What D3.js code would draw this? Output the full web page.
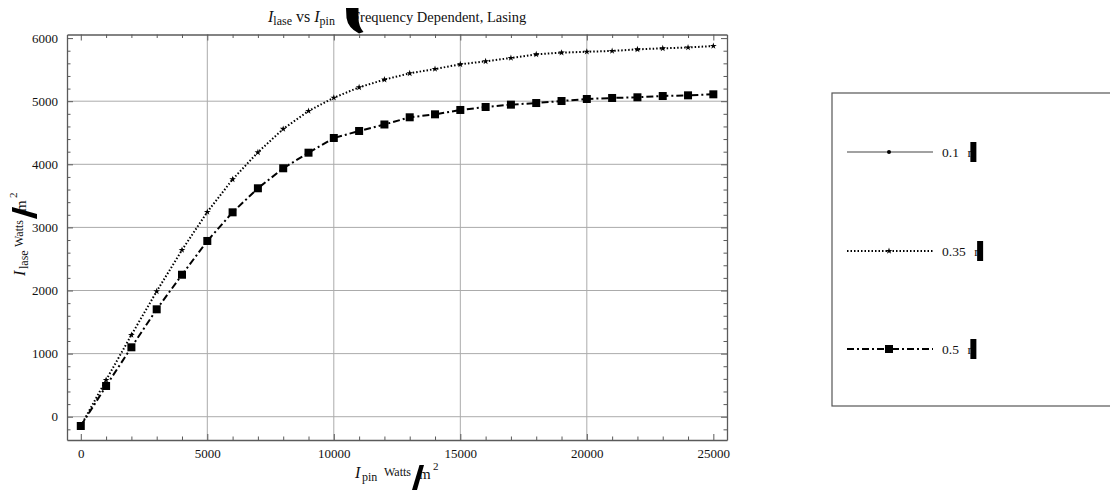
<!DOCTYPE html>
<html>
<head>
<meta charset="utf-8">
<script src="https://cdn.jsdelivr.net/npm/d3@7"></script>
<style>
  html, body { margin: 0; padding: 0; background: #fff; }
  svg { display: block; }
  text { font-family: "Liberation Serif", "DejaVu Serif", serif; fill: #111; }
</style>
</head>
<body>
<svg id="chart" width="1110" height="492"></svg>
<script>
// Pump intensity (W/cm^2) sampled every 1000
const pumpIntensity = [0, 1000, 2000, 3000, 4000, 5000, 6000, 7000, 8000, 9000, 10000,
  11000, 12000, 13000, 14000, 15000, 16000, 17000, 18000, 19000, 20000,
  21000, 22000, 23000, 24000, 25000];

// Lasing output for each parameter value
const lase010 = [];
const lase035 = [-147, 581, 1295, 1987, 2642, 3244, 3762, 4190, 4560, 4845, 5055,
  5220, 5342, 5442, 5510, 5585, 5632, 5685, 5743, 5769, 5784,
  5796, 5822, 5838, 5851, 5875];
const lase050 = [-147, 487, 1100, 1702, 2250, 2785, 3239, 3620, 3937, 4184, 4417,
  4528, 4631, 4745, 4792, 4861, 4908, 4945, 4971, 5003, 5035,
  5051, 5062, 5082, 5093, 5109];

const seriesLabels = ["0.1", "0.35", "0.5"];

const xMajorTicks = [0, 5000, 10000, 15000, 20000, 25000];
const yMajorTicks = [0, 1000, 2000, 3000, 4000, 5000, 6000];
const xGridValues = [5000, 10000, 15000, 20000];
const yGridValues = [0, 1000, 2000, 3000, 4000, 5000];

const svg = d3.select("#chart");

const frame = { left: 67, right: 727, top: 34.5, bottom: 440 };
const x = d3.scaleLinear().domain([-545, 25540]).range([frame.left, frame.right]);
const y = d3.scaleLinear().domain([-369, 6057]).range([frame.bottom, frame.top]);

const frameColor = "#5a5a5a";
const gridColor = "#ababab";

// grid
const grid = svg.append("g");
grid.selectAll("line.gx").data(xGridValues).join("line")
  .attr("x1", d => x(d)).attr("x2", d => x(d))
  .attr("y1", frame.top).attr("y2", frame.bottom)
  .attr("stroke", gridColor).attr("stroke-width", 1);
grid.selectAll("line.gy").data(yGridValues).join("line")
  .attr("x1", frame.left).attr("x2", frame.right)
  .attr("y1", d => y(d)).attr("y2", d => y(d))
  .attr("stroke", gridColor).attr("stroke-width", 1);

// frame axes with inward ticks
function styleAxis(g) {
  g.select(".domain").attr("stroke", frameColor).attr("stroke-width", 1.3);
  g.selectAll(".tick line").attr("stroke", frameColor).attr("stroke-width", 1);
  g.selectAll(".tick text").attr("font-family", "Liberation Serif").attr("font-size", 13).attr("fill", "#111");
}
const xMinor = x.ticks(26).filter(v => v % 5000 !== 0);
const yMinor = d3.range(-200, 6001, 200).filter(v => v % 1000 !== 0);

// bottom
svg.append("g").attr("transform", `translate(0,${frame.bottom})`)
  .call(d3.axisBottom(x).tickValues(xMajorTicks).tickFormat(d3.format("d")).tickSizeInner(-6).tickSizeOuter(0).tickPadding(9))
  .call(styleAxis);
svg.append("g").attr("transform", `translate(0,${frame.bottom})`)
  .call(d3.axisBottom(x).tickValues(xMinor).tickFormat("").tickSizeInner(-3.5).tickSizeOuter(0))
  .call(g => g.select(".domain").remove()).call(styleAxis);
// top
svg.append("g").attr("transform", `translate(0,${frame.top})`)
  .call(d3.axisTop(x).tickValues(xMajorTicks).tickFormat("").tickSizeInner(-6).tickSizeOuter(0))
  .call(styleAxis);
svg.append("g").attr("transform", `translate(0,${frame.top})`)
  .call(d3.axisTop(x).tickValues(xMinor).tickFormat("").tickSizeInner(-3.5).tickSizeOuter(0))
  .call(g => g.select(".domain").remove()).call(styleAxis);
// left
svg.append("g").attr("transform", `translate(${frame.left},0)`)
  .call(d3.axisLeft(y).tickValues(yMajorTicks).tickFormat(d3.format("d")).tickSizeInner(-6).tickSizeOuter(0).tickPadding(9))
  .call(styleAxis);
svg.append("g").attr("transform", `translate(${frame.left},0)`)
  .call(d3.axisLeft(y).tickValues(yMinor).tickFormat("").tickSizeInner(-3.5).tickSizeOuter(0))
  .call(g => g.select(".domain").remove()).call(styleAxis);
// right
svg.append("g").attr("transform", `translate(${frame.right},0)`)
  .call(d3.axisRight(y).tickValues(yMajorTicks).tickFormat("").tickSizeInner(-6).tickSizeOuter(0))
  .call(styleAxis);
svg.append("g").attr("transform", `translate(${frame.right},0)`)
  .call(d3.axisRight(y).tickValues(yMinor).tickFormat("").tickSizeInner(-3.5).tickSizeOuter(0))
  .call(g => g.select(".domain").remove()).call(styleAxis);

// series styles
const seriesStyles = [
  { label: seriesLabels[0], values: lase010, dash: null, width: 1.2, color: "#444", marker: "dot" },
  { label: seriesLabels[1], values: lase035, dash: "1.5,2", width: 2, color: "#000", marker: "star" },
  { label: seriesLabels[2], values: lase050, dash: "7,3,2,3", width: 2, color: "#000", marker: "square" }
];

const line = d3.line().x(d => x(d[0])).y(d => y(d[1]));

function drawMarker(g, kind, cx, cy) {
  if (kind === "square") {
    g.append("rect").attr("x", cx - 4).attr("y", cy - 4).attr("width", 8).attr("height", 8).attr("fill", "#000");
  } else if (kind === "star") {
    g.append("path").attr("d", d3.symbol(d3.symbolStar, 14)()).attr("transform", `translate(${cx},${cy})`).attr("fill", "#000");
  } else {
    g.append("circle").attr("cx", cx).attr("cy", cy).attr("r", 2).attr("fill", "#000");
  }
}

const plot = svg.append("g");
seriesStyles.forEach(s => {
  const pts = s.values.map((v, i) => [pumpIntensity[i], v]);
  if (!pts.length) return;
  plot.append("path").datum(pts)
    .attr("d", line)
    .attr("fill", "none")
    .attr("stroke", s.color)
    .attr("stroke-width", s.width)
    .attr("stroke-dasharray", s.dash);
  const mg = plot.append("g");
  pts.forEach(p => drawMarker(mg, s.marker, x(p[0]), y(p[1])));
});

// title
const title = svg.append("text").attr("x", 268).attr("y", 22).attr("font-size", 16);
title.append("tspan").attr("font-style", "italic").text("I");
title.append("tspan").attr("font-size", 12).attr("dy", 3).text("lase");
title.append("tspan").attr("dy", -3).text(" vs ");
title.append("tspan").attr("font-style", "italic").text("I");
title.append("tspan").attr("font-size", 12).attr("dy", 3).text("pin");
title.append("tspan").attr("x", 352).attr("dy", -3).attr("font-size", 14.5).text("Frequency Dependent, Lasing");
// heavy parenthesis glyph
svg.append("path")
  .attr("d", "M346,8 L358.5,8 L358.5,18 Q358.5,26 363.5,32 L359,33.5 Q348,28 346.5,18 Z")
  .attr("fill", "#000");

// axis label builder: I_sub  Watts ⁄ m^2 (local baseline at 0)
function axisLabel(g, sub) {
  g.append("text").attr("x", 0).attr("y", 0).attr("font-size", 16).attr("font-style", "italic").text("I");
  g.append("text").attr("x", 7).attr("y", 3).attr("font-size", 12).text(sub);
  g.append("text").attr("x", 29).attr("y", -2).attr("font-size", 12).text("Watts");
  g.append("text").attr("x", 64).attr("y", 1).attr("font-size", 15).text("m");
  g.append("text").attr("x", 78).attr("y", -8).attr("font-size", 11).text("2");
  // heavy slash glyph
  g.append("path").attr("d", "M57,12 L62,12 L69,-13 L64.5,-13 Z").attr("fill", "#000");
}
// x label
const xl = svg.append("g").attr("transform", "translate(355,478)");
axisLabel(xl, "pin");

// y label
const yl = svg.append("g").attr("transform", "translate(25,276) rotate(-90)");
axisLabel(yl, "lase");

// legend
const legend = svg.append("g");
legend.append("rect").attr("x", 832).attr("y", 93).attr("width", 290).attr("height", 313)
  .attr("fill", "#fff").attr("stroke", "#555").attr("stroke-width", 1.2);
const legendY = [152, 251, 349];
seriesStyles.forEach((s, i) => {
  const ly = legendY[i];
  legend.append("line").attr("x1", 847).attr("x2", 933).attr("y1", ly).attr("y2", ly)
    .attr("stroke", s.color).attr("stroke-width", s.width).attr("stroke-dasharray", s.dash);
  drawMarker(legend, s.marker, 889, ly);
  const t = legend.append("text").attr("x", 942).attr("y", ly + 4.5).attr("font-size", 13.5).text(s.label);
  const w = t.node().getComputedTextLength();
  legend.append("text").attr("x", 942 + w + 8.5).attr("y", ly + 4.5).attr("font-size", 13).text("r");
  legend.append("rect").attr("x", 942 + w + 11.5).attr("y", ly - 10).attr("width", 6).attr("height", 20).attr("fill", "#000");
});
</script>
</body>
</html>
